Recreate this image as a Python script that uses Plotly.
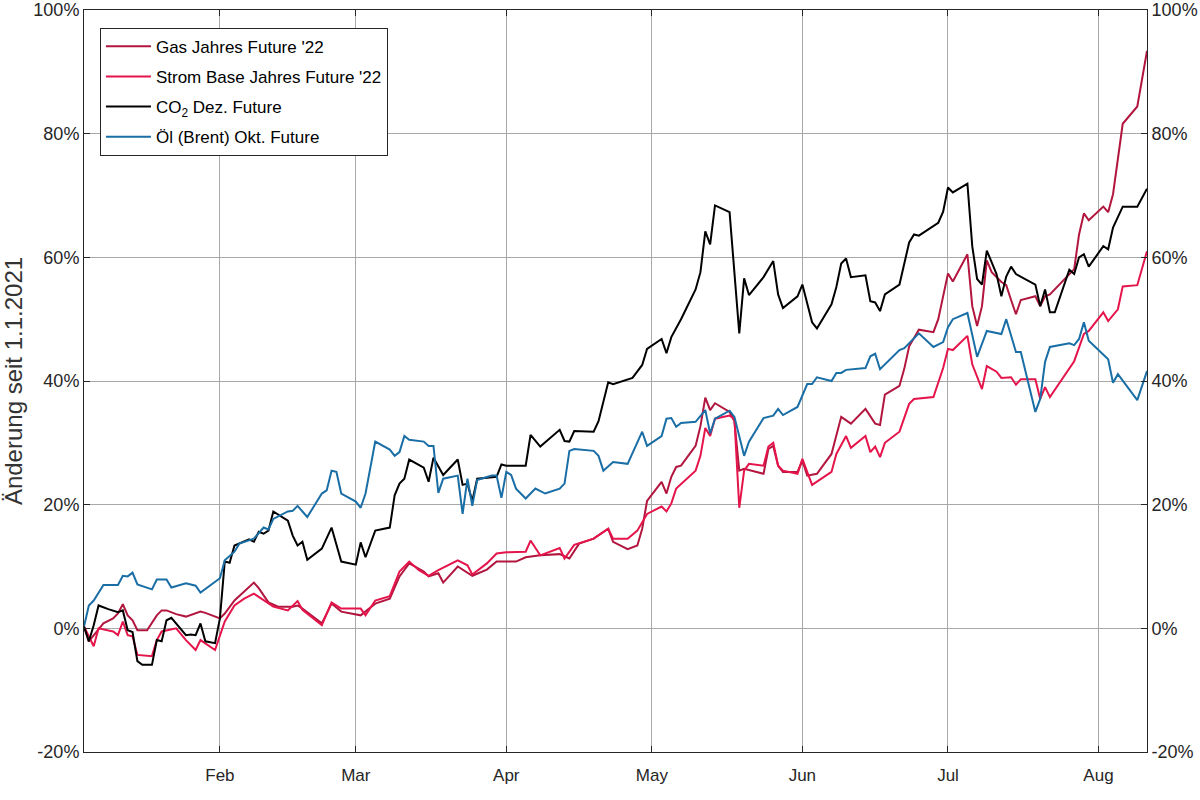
import plotly.graph_objects as go

# Changes since 1.1.2021 in percent
gas_dates = ["01-04", "01-05", "01-08", "01-10", "01-11", "01-12", "01-13", "01-14", "01-15", "01-17",
             "01-19", "01-20", "01-21", "01-23", "01-25", "01-28", "01-29", "02-01", "02-02", "02-04",
             "02-08", "02-09", "02-11", "02-13", "02-16", "02-17", "02-18", "02-22", "02-24", "02-26",
             "03-02", "03-05", "03-08", "03-10", "03-12", "03-15", "03-16", "03-18", "03-19", "03-22",
             "03-25", "03-28", "03-30", "04-01", "04-03", "04-05", "04-08", "04-12", "04-14", "04-16",
             "04-19", "04-22", "04-23", "04-26", "04-28", "04-29", "04-30", "05-03", "05-04", "05-05",
             "05-06", "05-07", "05-10", "05-11", "05-12", "05-13", "05-14", "05-17", "05-18", "05-19",
             "05-20", "05-24", "05-25", "05-26", "05-27", "05-28", "05-31", "06-01", "06-02", "06-04",
             "06-07", "06-09", "06-11", "06-14", "06-16", "06-17", "06-18", "06-21", "06-22", "06-23",
             "06-25", "06-28", "06-29", "07-01", "07-02", "07-05", "07-06", "07-07", "07-08", "07-09",
             "07-10", "07-12", "07-13", "07-14", "07-15", "07-16", "07-18", "07-19", "07-20", "07-21",
             "07-22", "07-24", "07-27", "07-28", "07-29", "07-30", "08-02", "08-03", "08-04", "08-06",
             "08-09", "08-11"]
gas = [0.3, -2.1, 0.8, 1.6, 2.4, 3.9, 2.1, 1.3, -0.3, -0.3,
       2.1, 2.9, 2.9, 2.3, 1.9, 2.7, 2.5, 1.6, 2.4, 4.5,
       7.4, 6.5, 4.2, 3.5, 3.5, 3.7, 3.2, 0.8, 4.0, 2.7,
       2.1, 4.0, 4.8, 8.4, 10.5, 9.2, 8.4, 8.9, 7.4, 10.0,
       8.5, 9.5, 10.8, 10.8, 10.8, 11.5, 11.8, 12.0, 11.3, 13.7,
       14.5, 16.1, 14.0, 12.8, 13.4, 16.1, 20.6, 23.7, 21.8, 24.5,
       26.1, 26.3, 29.5, 32.7, 37.3, 35.3, 36.4, 35.0, 33.5, 25.5,
       25.8, 25.0, 29.0, 29.5, 26.3, 25.3, 25.3, 27.1, 24.7, 25.0,
       28.2, 34.2, 33.1, 35.5, 33.1, 32.9, 37.8, 39.2, 42.0, 45.6,
       48.3, 47.9, 50.0, 57.4, 56.1, 60.5, 52.1, 48.9, 52.1, 59.5,
       57.6, 56.0, 55.5, 53.1, 50.8, 53.1, 53.5, 53.7, 52.1, 53.7,
       54.0, 55.6, 58.1, 63.7, 67.1, 66.0, 68.2, 67.3, 70.2, 81.6,
       84.4, 93.4]

strom_dates = ["01-04", "01-06", "01-07", "01-10", "01-11", "01-12", "01-13", "01-14", "01-15", "01-18",
               "01-19", "01-20", "01-23", "01-25", "01-27", "01-28", "01-31", "02-02", "02-04", "02-06",
               "02-08", "02-10", "02-12", "02-15", "02-17", "02-18", "02-22", "02-24", "02-26", "03-02",
               "03-03", "03-05", "03-08", "03-10", "03-12", "03-14", "03-16", "03-18", "03-22", "03-24",
               "03-25", "03-28", "03-30", "04-01", "04-03", "04-05", "04-06", "04-08", "04-12", "04-13",
               "04-15", "04-19", "04-22", "04-23", "04-26", "04-28", "04-30", "05-03", "05-04", "05-05",
               "05-06", "05-10", "05-11", "05-12", "05-13", "05-14", "05-17", "05-18", "05-19", "05-20",
               "05-21", "05-24", "05-25", "05-26", "05-27", "05-28", "05-31", "06-01", "06-03", "06-07",
               "06-08", "06-10", "06-11", "06-14", "06-15", "06-16", "06-17", "06-18", "06-21", "06-23",
               "06-24", "06-28", "06-30", "07-01", "07-02", "07-05", "07-06", "07-08", "07-09", "07-11",
               "07-12", "07-14", "07-15", "07-16", "07-19", "07-20", "07-21", "07-22", "07-27", "07-29",
               "07-30", "08-02", "08-03", "08-05", "08-06", "08-09", "08-11"]
strom = [0.3, -2.9, 0.0, -0.5, -1.1, 1.1, -1.1, -1.3, -4.3, -4.5,
         -1.9, -0.5, 0.0, -1.9, -3.5, -1.9, -3.5, 1.1, 3.7, 4.8,
         5.6, 4.5, 3.5, 2.9, 4.4, 3.0, 0.5, 4.2, 3.2, 3.2,
         2.1, 4.5, 5.2, 9.2, 10.8, 9.4, 8.5, 9.4, 11.0, 10.2,
         8.7, 10.5, 12.1, 12.3, 12.3, 12.4, 14.2, 11.8, 13.0, 11.3,
         13.5, 14.5, 16.1, 14.5, 14.5, 15.8, 18.5, 19.7, 18.9, 20.2,
         22.6, 25.5, 27.9, 32.4, 31.1, 33.9, 34.4, 33.9, 19.5, 25.5,
         26.6, 26.3, 29.4, 30.0, 26.3, 25.5, 25.0, 27.4, 23.2, 25.3,
         28.2, 31.1, 29.2, 31.1, 28.5, 29.4, 27.7, 30.0, 31.8, 36.3,
         37.1, 37.4, 42.1, 45.2, 45.0, 47.3, 42.7, 38.7, 42.4, 41.5,
         40.5, 40.6, 39.4, 40.3, 40.3, 37.1, 39.0, 37.4, 43.2, 47.6,
         48.1, 51.1, 49.7, 51.6, 55.3, 55.5, 61.0]

co2_dates = ["01-04", "01-05", "01-06", "01-07", "01-09", "01-11", "01-12", "01-13", "01-14", "01-15",
             "01-16", "01-18", "01-19", "01-20", "01-21", "01-22", "01-25", "01-26", "01-27", "01-28",
             "01-29", "01-31", "02-01", "02-02", "02-03", "02-04", "02-07", "02-08", "02-09", "02-10",
             "02-11", "02-12", "02-15", "02-16", "02-17", "02-18", "02-19", "02-22", "02-24", "02-26",
             "03-01", "03-02", "03-03", "03-05", "03-08", "03-09", "03-10", "03-11", "03-12", "03-15",
             "03-16", "03-17", "03-19", "03-22", "03-23", "03-24", "03-25", "03-26", "03-30", "03-31",
             "04-01", "04-05", "04-06", "04-08", "04-12", "04-13", "04-14", "04-15", "04-19", "04-20",
             "04-22", "04-23", "04-27", "04-28", "04-29", "04-30", "05-03", "05-04", "05-05", "05-07",
             "05-10", "05-11", "05-12", "05-13", "05-14", "05-17", "05-19", "05-20", "05-21", "05-24",
             "05-26", "05-27", "05-28", "05-31", "06-01", "06-03", "06-04", "06-07", "06-08", "06-09",
             "06-10", "06-11", "06-14", "06-15", "06-16", "06-17", "06-18", "06-21", "06-22", "06-23",
             "06-24", "06-25", "06-29", "06-30", "07-01", "07-02", "07-05", "07-06", "07-07", "07-08",
             "07-09", "07-11", "07-12", "07-13", "07-14", "07-15", "07-19", "07-20", "07-21", "07-22",
             "07-23", "07-26", "07-27", "07-28", "07-29", "07-30", "08-02", "08-03", "08-04", "08-06",
             "08-09", "08-10", "08-11"]
co2 = [0.3, -2.1, 0.5, 3.7, 3.1, 2.6, 2.9, -0.3, -0.6, -5.3,
       -5.9, -5.9, -1.9, -2.1, 1.3, 1.7, -1.1, -1.0, -1.1, 0.8,
       -2.1, -2.4, 1.6, 10.8, 10.6, 13.4, 14.4, 14.0, 15.6, 15.3,
       15.8, 18.9, 17.4, 15.0, 13.4, 14.0, 11.1, 12.9, 16.3, 10.8,
       10.3, 13.9, 11.5, 15.8, 16.3, 21.5, 23.4, 24.2, 27.3, 26.0,
       23.7, 27.6, 24.8, 27.3, 23.2, 23.4, 20.6, 24.2, 24.5, 26.5,
       26.3, 26.3, 31.3, 29.4, 32.1, 30.3, 30.2, 31.9, 31.8, 33.5,
       39.8, 39.5, 40.5, 41.6, 42.6, 45.2, 46.8, 44.5, 47.1, 50.0,
       54.8, 57.6, 64.2, 62.1, 68.4, 67.3, 47.7, 56.6, 53.9, 56.8,
       59.4, 54.0, 51.8, 53.7, 55.6, 49.5, 48.5, 52.4, 55.2, 59.0,
       59.8, 56.8, 57.1, 52.9, 52.7, 51.3, 54.0, 55.6, 59.2, 62.4,
       63.7, 63.5, 65.6, 67.4, 71.3, 70.5, 71.9, 61.8, 56.5, 55.6,
       61.1, 57.3, 53.7, 56.9, 58.5, 57.3, 55.6, 52.1, 54.8, 51.1,
       51.1, 58.0, 57.3, 60.0, 60.5, 58.5, 61.8, 61.3, 64.8, 68.2,
       68.2, 69.7, 71.1]

oel_dates = ["01-04", "01-05", "01-06", "01-08", "01-11", "01-12", "01-13", "01-14", "01-15", "01-18",
             "01-19", "01-21", "01-22", "01-25", "01-27", "01-28", "02-01", "02-02", "02-04", "02-05",
             "02-08", "02-10", "02-11", "02-12", "02-15", "02-16", "02-17", "02-19", "02-22", "02-23",
             "02-24", "02-25", "02-26", "03-01", "03-02", "03-03", "03-05", "03-08", "03-09", "03-10",
             "03-11", "03-12", "03-15", "03-16", "03-17", "03-18", "03-19", "03-22", "03-23", "03-24",
             "03-25", "03-26", "03-29", "03-30", "03-31", "04-01", "04-02", "04-03", "04-05", "04-07",
             "04-09", "04-12", "04-13", "04-14", "04-15", "04-19", "04-20", "04-21", "04-23", "04-26",
             "04-29", "04-30", "05-03", "05-04", "05-05", "05-06", "05-07", "05-10", "05-12", "05-13",
             "05-14", "05-17", "05-18", "05-20", "05-21", "05-24", "05-26", "05-27", "05-28", "05-31",
             "06-02", "06-03", "06-04", "06-07", "06-08", "06-09", "06-10", "06-14", "06-15", "06-16",
             "06-17", "06-21", "06-22", "06-25", "06-28", "06-30", "07-01", "07-02", "07-05", "07-07",
             "07-09", "07-12", "07-13", "07-15", "07-16", "07-19", "07-20", "07-21", "07-22", "07-26",
             "07-27", "07-28", "07-29", "07-30", "08-03", "08-04", "08-05", "08-09", "08-11"]
oel = [0.3, 3.7, 4.5, 7.0, 7.0, 8.5, 8.4, 9.0, 7.1, 6.3,
       7.9, 7.9, 6.6, 7.3, 6.9, 5.8, 8.1, 11.0, 12.4, 13.7,
       14.5, 16.3, 16.0, 17.7, 18.9, 19.0, 19.8, 18.0, 21.8, 22.3,
       25.5, 25.3, 21.8, 20.5, 19.5, 21.8, 30.2, 28.9, 27.9, 28.5,
       31.1, 30.5, 30.2, 29.5, 29.5, 21.9, 24.2, 24.7, 18.5, 24.2,
       19.8, 24.0, 24.7, 24.7, 21.1, 25.3, 24.8, 22.6, 21.0, 22.6,
       21.8, 22.6, 23.4, 28.7, 29.0, 28.7, 27.9, 25.5, 26.9, 26.6,
       31.8, 29.5, 31.1, 33.9, 34.0, 32.6, 33.2, 33.4, 35.3, 31.5,
       33.9, 35.2, 34.2, 27.9, 30.2, 34.0, 34.4, 35.5, 34.5, 35.8,
       39.5, 39.5, 40.6, 40.0, 41.3, 41.3, 41.8, 42.1, 44.0, 44.4,
       41.9, 45.0, 45.3, 47.7, 45.5, 46.3, 48.7, 50.0, 51.0, 43.9,
       48.1, 47.6, 50.0, 44.7, 44.7, 35.0, 37.1, 43.1, 45.5, 46.1,
       45.8, 46.8, 49.5, 46.5, 43.5, 39.7, 41.1, 36.9, 41.6]

y_ticks = [-20, 0, 20, 40, 60, 80, 100]
y_labels = ["-20%", "0%", "20%", "40%", "60%", "80%", "100%"]

series = [
    ("Gas Jahres Future '22", gas_dates, gas, "#b2163f"),
    ("Strom Base Jahres Future '22", strom_dates, strom, "#e5154b"),
    ("CO<sub>2</sub> Dez. Future", co2_dates, co2, "#000000"),
    ("Öl (Brent) Okt. Future", oel_dates, oel, "#1a6ea6"),
]

fnt = "Liberation Sans, Arial, sans-serif"
axis_col = "#262626"
grid_col = "#a8a8a8"

fig = go.Figure()
for i, (name, dates, vals, col) in enumerate(series):
    fig.add_trace(go.Scatter(
        x=["2021-" + d for d in dates],
        y=vals,
        mode="lines",
        name=name,
        legendgroup=str(i),
        line=dict(color=col, width=2),
    ))

# same values on the right-hand axis (no visible mark, just so the axis is drawn)
fig.add_trace(go.Scatter(
    x=["2021-" + d for d in oel_dates], y=oel, yaxis="y2",
    mode="none", showlegend=False, hoverinfo="skip",
))

fig.update_layout(
    width=1200, height=800,
    margin=dict(l=84, r=53, t=10, b=48, autoexpand=False),
    paper_bgcolor="white", plot_bgcolor="white",
    font=dict(family=fnt, color=axis_col),
    showlegend=True,
    legend=dict(
        x=0.015, y=0.976, xanchor="left", yanchor="top",
        bgcolor="white", bordercolor=axis_col, borderwidth=1,
        font=dict(size=17, family=fnt, color="black"),
        tracegroupgap=5, itemwidth=45,
    ),
    xaxis=dict(
        type="date", range=["2021-01-04", "2021-08-11"],
        tick0="2021-01-01", dtick="M1", tickformat="%b",
        showgrid=True, gridcolor=grid_col, gridwidth=1,
        showline=True, linecolor=axis_col, linewidth=1, mirror="ticks",
        ticks="inside", ticklen=6, tickcolor=axis_col,
        tickfont=dict(size=17), ticklabelstandoff=8, automargin=False,
    ),
    yaxis=dict(
        range=[-20, 100], tickvals=y_ticks, ticktext=y_labels,
        showgrid=True, gridcolor=grid_col, gridwidth=1, zeroline=False,
        showline=True, linecolor=axis_col, linewidth=1,
        ticks="inside", ticklen=6, tickcolor=axis_col,
        tickfont=dict(size=18), automargin=False, ticklabeloverflow="allow",
        title=dict(text="Änderung seit 1.1.2021", font=dict(size=24, color="#333333"), standoff=6),
    ),
    yaxis2=dict(
        overlaying="y", side="right", anchor="x",
        range=[-20, 100], tickvals=y_ticks, ticktext=y_labels,
        showgrid=False, zeroline=False,
        showline=True, linecolor=axis_col, linewidth=1,
        ticks="inside", ticklen=6, tickcolor=axis_col,
        tickfont=dict(size=18), automargin=False, ticklabeloverflow="allow",
    ),
)

# page without the default body margin, so the figure sits at the window's top-left corner
fig.write_html("out.html", config={"displayModeBar": False},
               post_script="document.body.style.margin = '0px';")
